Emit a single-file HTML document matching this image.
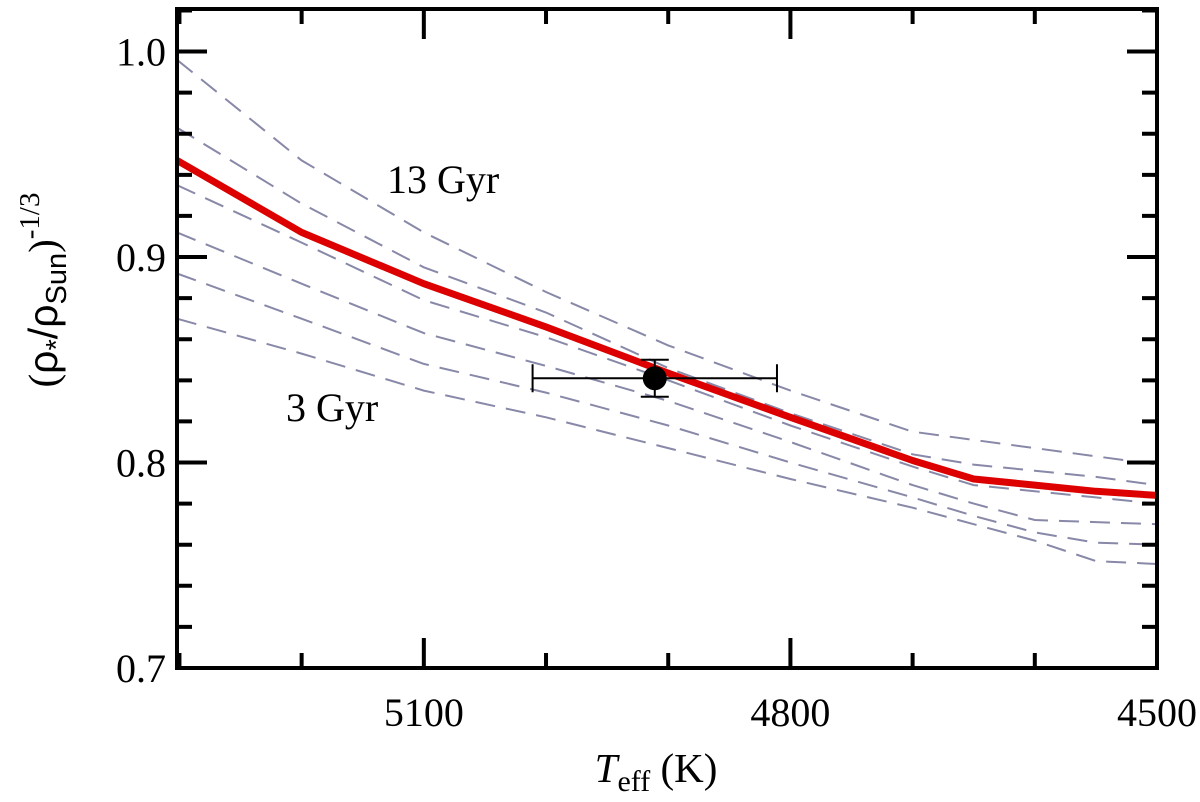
<!DOCTYPE html>
<html><head><meta charset="utf-8"><style>
html,body{margin:0;padding:0;background:#fff;}
svg text{font-family:"Liberation Serif",serif;fill:#000;}
</style></head><body>
<svg id="chart" width="1200" height="797" viewBox="0 0 1200 797" xmlns="http://www.w3.org/2000/svg">
<g id="grid"></g>
<g id="curves"></g>
<g id="point"></g>
<rect x="177" y="9" width="980" height="659" fill="none" stroke="#000" stroke-width="4"/>
<g id="ticks"></g>
<text x="387" y="193" font-size="40">13 Gyr</text>
<text x="286" y="421" font-size="40">3 Gyr</text>
<text x="656" y="782" font-size="41" text-anchor="middle"><tspan font-style="italic">T</tspan><tspan font-size="30" dy="9">eff</tspan><tspan dy="-9"> (K)</tspan></text>
<text transform="translate(57,290) rotate(-90)" font-size="41" text-anchor="middle">(<tspan font-family="Liberation Sans, sans-serif">ρ</tspan><tspan font-size="29" dy="9" font-family="Liberation Sans, sans-serif">*</tspan><tspan dy="-9" font-family="Liberation Sans, sans-serif">/ρ</tspan><tspan font-size="29" dy="9" font-family="Liberation Sans, sans-serif">Sun</tspan><tspan dy="-9">)</tspan><tspan font-size="29" dy="-18">-1/3</tspan></text>
</svg>
<script>
const temps = [5302,5200,5100,5000,4900,4800,4700,4650,4600,4550,4500];
const redCurve = [0.947,0.912,0.887,0.866,0.8435,0.822,0.801,0.792,0.789,0.786,0.784];
const iso1 = [0.996,0.947,0.912,0.883,0.857,0.835,0.815,0.811,0.807,0.803,0.799];
const iso2 = [0.963,0.926,0.895,0.873,0.846,0.824,0.804,0.799,0.796,0.793,0.789];
const iso3 = [0.935,0.907,0.879,0.861,0.840,0.818,0.798,0.789,0.786,0.783,0.780];
const iso4 = [0.912,0.887,0.863,0.847,0.830,0.810,0.789,0.780,0.772,0.771,0.770];
const iso5 = [0.892,0.870,0.848,0.834,0.818,0.800,0.783,0.774,0.766,0.761,0.760];
const iso6 = [0.870,0.853,0.835,0.822,0.807,0.792,0.778,0.770,0.762,0.752,0.7506];
const pointT = [4911], pointV = [0.841], pointTErr = [100], pointVErr = [0.009];
const yTickLabels = ["0.7","0.8","0.9","1.0"];
const yTickVals = [0.7,0.8,0.9,1.0];
const xTickLabels = ["5100","4800","4500"];
const xTickVals = [5100,4800,4500];

const X0=177,X1=1157,Y0=668,Y1=9,TMIN=5302,TMAX=4500,VMIN=0.7,VMAX=1.0207;
const xs = t => X0 + (TMIN - t)/(TMIN - TMAX)*(X1-X0);
const ys = v => Y0 - (v - VMIN)/(VMAX - VMIN)*(Y0-Y1);
const NS="http://www.w3.org/2000/svg";
function mk(tag, parent, attrs){const e=document.createElementNS(NS,tag);for(const k in attrs)e.setAttribute(k,attrs[k]);parent.appendChild(e);return e;}
const curves=document.getElementById('curves');
[iso1,iso2,iso3,iso4,iso5,iso6].forEach((arr,i)=>{
  const d=arr.map((v,j)=>(j?'L':'M')+xs(temps[j]).toFixed(1)+','+ys(v).toFixed(1)).join('');
  const p=mk('path',curves,{d:d,fill:'none',stroke:'#8888a8','stroke-width':2,'stroke-dasharray':'20,11'});
  
  
});
const rd=redCurve.map((v,j)=>(j?'L':'M')+xs(temps[j]).toFixed(1)+','+ys(v).toFixed(1)).join('');
const rp=mk('path',curves,{d:rd,fill:'none',stroke:'#dd0000','stroke-width':7,'stroke-linejoin':'round'});



const pg=document.getElementById('point');
const px=xs(pointT[0]), py=ys(pointV[0]);
const xl=xs(pointT[0]+pointTErr[0]), xr=xs(pointT[0]-pointTErr[0]);
const yt=ys(pointV[0]+pointVErr[0]), yb=ys(pointV[0]-pointVErr[0]);
const eb=mk('path',pg,{d:`M${xl},${py}H${xr}M${xl},${py-14}V${py+14}M${xr},${py-14}V${py+14}M${px},${yt}V${yb}M${px-14},${yt}H${px+14}M${px-14},${yb}H${px+14}`,stroke:'#000','stroke-width':2,fill:'none'});


const dot=mk('circle',pg,{cx:px,cy:py,r:12,fill:'#000'});



const tg=document.getElementById('ticks');
for(let t=5300;t>=4500;t-=100){
  const x=xs(t), major=(t%300===0);
  const L=major?30:15;
  mk('path',tg,{d:`M${x},${Y0}V${Y0-L}M${x},${Y1}V${Y1+L}`,stroke:'#000','stroke-width':4});
}
for(let k=0;k<=16;k++){
  const v=0.7+k*0.02; if(v>VMAX)break;
  const y=ys(v), major=(k%5===0);
  const L=major?30:15;
  mk('path',tg,{d:`M${X0},${y}H${X0+L}M${X1},${y}H${X1-L}`,stroke:'#000','stroke-width':4});
}
yTickVals.forEach((v,i)=>{
  const t=mk('text',tg,{x:166,y:ys(v)+14,'font-size':40,'text-anchor':'end'});
  t.textContent=yTickLabels[i];
  
  
});
xTickVals.forEach((v,i)=>{
  const t=mk('text',tg,{x:xs(v),y:726,'font-size':40,'text-anchor':'middle'});
  t.textContent=xTickLabels[i];
  
  
});
</script>
</body></html>
